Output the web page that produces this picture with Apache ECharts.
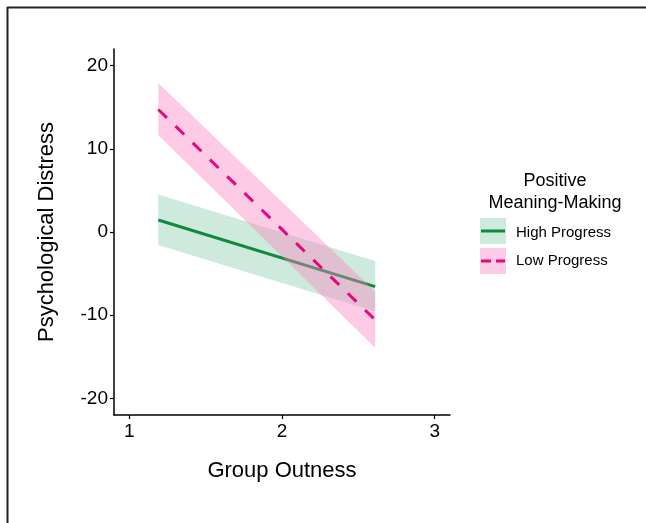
<!DOCTYPE html>
<html><head><meta charset="utf-8">
<script src="https://cdn.jsdelivr.net/npm/echarts@6/dist/echarts.min.js"></script>
<style>html,body{margin:0;padding:0;background:#fff}#c{width:646px;height:523px}</style>
</head><body><div id="c"></div>
<script>
const xTicks = [1, 2, 3];
const yTicks = [-20, -10, 0, 10, 20];
const xVals = [1.19, 2.61];
const highLine = [1.44, -6.56];
const highLower = [-1.56, -9.56];
const highUpper = [4.52, -3.48];
const lowLine = [14.73, -10.56];
const lowLower = [11.64, -13.92];
const lowUpper = [17.92, -7.16];

const font = 'Liberation Sans, Arial, sans-serif';

function bandSeries(lower, upper, color, z) {
  const data = xVals.map((x, i) => [x, lower[i], upper[i]]);
  return {
    type: 'custom',
    data: data,
    silent: true,
    renderItem: function (params, api) {
      if (params.dataIndex !== 0) return;
      const pts = [];
      data.forEach(d => pts.push(api.coord([d[0], d[2]])));
      for (let i = data.length - 1; i >= 0; i--) pts.push(api.coord([data[i][0], data[i][1]]));
      return { type: 'polygon', shape: { points: pts }, style: { fill: color } };
    },
    encode: { x: 0, y: [1, 2] },
    z: z
  };
}

const chart = echarts.init(document.getElementById('c'));
chart.setOption({
  animation: false,
  grid: { left: 114, top: 49, right: 196, bottom: 108 },
  xAxis: {
    type: 'value', min: 0.9, max: 3.1,
    name: 'Group Outness', nameLocation: 'middle', nameGap: 45,
    nameTextStyle: { fontSize: 22, color: '#000', fontFamily: font },
    axisLine: { show: true, onZero: false, lineStyle: { color: '#000', width: 1.5 } },
    axisTick: { show: true, length: 4, customValues: xTicks, lineStyle: { color: '#000', width: 1.2 } },
    axisLabel: { customValues: xTicks, fontSize: 19, color: '#000', fontFamily: font, margin: 7 },
    splitLine: { show: false }
  },
  yAxis: {
    type: 'value', min: -22, max: 22,
    name: 'Psychological Distress', nameLocation: 'middle', nameGap: 56, nameRotate: 90,
    nameTextStyle: { fontSize: 22, color: '#000', fontFamily: font },
    axisLine: { show: true, onZero: false, lineStyle: { color: '#000', width: 1.5 } },
    axisTick: { show: true, length: 4, customValues: yTicks, lineStyle: { color: '#000', width: 1.2 } },
    axisLabel: { customValues: yTicks, fontSize: 19, color: '#000', fontFamily: font, margin: 6 },
    splitLine: { show: false }
  },
  series: [
    bandSeries(highLower, highUpper, 'rgba(80,180,130,0.28)', 1),
    {
      type: 'line', name: 'High Progress', data: xVals.map((x, i) => [x, highLine[i]]),
      symbol: 'none', lineStyle: { color: '#0d8a3e', width: 3 }, z: 2
    },
    bandSeries(lowLower, lowUpper, 'rgba(250,130,195,0.42)', 3),
    {
      type: 'line', name: 'Low Progress', data: xVals.map((x, i) => [x, lowLine[i]]),
      symbol: 'none', lineStyle: { color: '#e5087e', width: 3, type: [12, 12] }, z: 4
    }
  ],
  graphic: [
    { type: 'line', shape: { x1: 7, y1: 7.5, x2: 646, y2: 7.5 }, style: { stroke: '#222', lineWidth: 2 } },
    { type: 'line', shape: { x1: 7.5, y1: 7, x2: 7.5, y2: 523 }, style: { stroke: '#222', lineWidth: 2 } },
    { type: 'text', style: { text: 'Positive', x: 555, y: 181, fontSize: 18, fontFamily: font, fill: '#000', align: 'center', verticalAlign: 'middle' } },
    { type: 'text', style: { text: 'Meaning-Making', x: 555, y: 203, fontSize: 18, fontFamily: font, fill: '#000', align: 'center', verticalAlign: 'middle' } },
    { type: 'rect', shape: { x: 480, y: 218, width: 26, height: 26 }, style: { fill: 'rgba(80,180,130,0.28)' } },
    { type: 'line', shape: { x1: 481, y1: 231, x2: 505, y2: 231 }, style: { stroke: '#0d8a3e', lineWidth: 3 } },
    { type: 'rect', shape: { x: 480, y: 248, width: 26, height: 26 }, style: { fill: 'rgba(250,130,195,0.42)' } },
    { type: 'line', shape: { x1: 481, y1: 261, x2: 505, y2: 261 }, style: { stroke: '#e5087e', lineWidth: 3, lineDash: [10, 5] } },
    { type: 'text', style: { text: 'High Progress', x: 516, y: 233, fontSize: 15, fontFamily: font, fill: '#000', verticalAlign: 'middle' } },
    { type: 'text', style: { text: 'Low Progress', x: 516, y: 261, fontSize: 15, fontFamily: font, fill: '#000', verticalAlign: 'middle' } }
  ]
});
</script></body></html>
